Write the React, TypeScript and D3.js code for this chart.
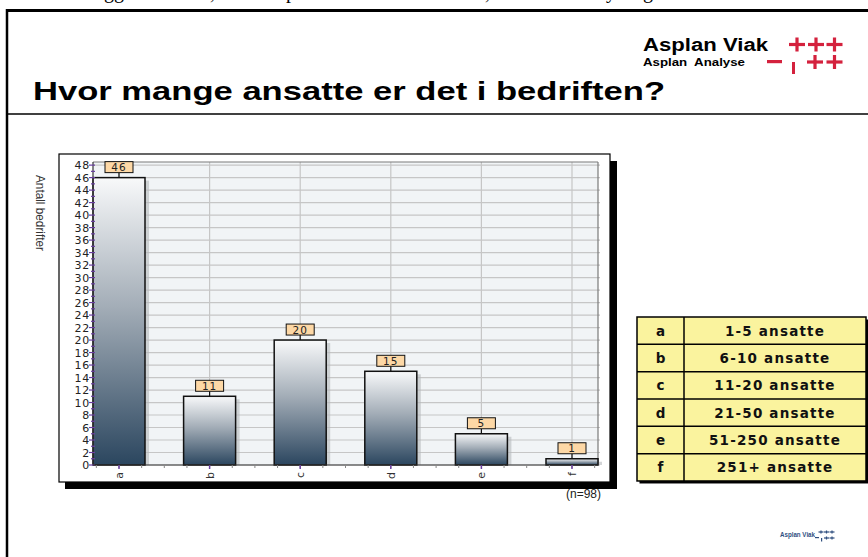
import React from 'react';
import * as d3 from 'd3';

const categories = ['a', 'b', 'c', 'd', 'e', 'f'];
const counts = [46, 11, 20, 15, 5, 1];
const legendLabels = ['1-5 ansatte', '6-10 ansatte', '11-20 ansatte', '21-50 ansatte', '51-250 ansatte', '251+ ansatte'];
const yTicks = d3.range(0, 49, 2);
const yMinor = d3.range(0, 49, 1);

const W = 868;
const H = 557;

// plot area
const plot = { left: 93, right: 598, top: 162, bottom: 465 };
const box = { x: 59, y: 154, w: 551, h: 328 };

const numFont = '"DejaVu Sans", Verdana, sans-serif';
const arial = '"Liberation Sans", Arial, sans-serif';

function Plus({ cx, cy, s = 16, t = 3.2, color = '#d4213d' }) {
  return (
    <g fill={color}>
      <rect x={cx - s / 2} y={cy - t / 2} width={s} height={t} />
      <rect x={cx - t / 2} y={cy - s / 2 + 1} width={t} height={s - 2} />
    </g>
  );
}

export default function App() {
  const x = d3.scalePoint<string>().domain(categories).range([plot.left, plot.right]).padding(0.287);
  const y = d3.scaleLinear().domain([0, 48.5]).range([plot.bottom, plot.top]);
  const barW = 52;
  const step = x.step();
  const xMinor = d3
    .range(-1, 23)
    .map(k => (x('a') as number) + (k * step) / 4)
    .filter(p => p >= plot.left + 2 && p <= plot.right);

  const legendX = 637;
  const legendY = 317;
  const rowH = 27.33;
  const legendW = 229;
  const colX = 684;

  return (
    <svg
      width={W}
      height={H}
      style={{ position: 'fixed', left: 0, top: 0, background: '#fff' }}
    >
      <defs>
        <linearGradient id="barGrad" x1="0" y1="0" x2="0" y2="1">
          <stop offset="0" stopColor="#f8f9fa" />
          <stop offset="0.45" stopColor="#a3adb7" />
          <stop offset="1" stopColor="#2b465f" />
        </linearGradient>
      </defs>

      {/* cut-off line of page text above the frame */}
      <g fontFamily='"Liberation Serif", "Times New Roman", serif' fontSize={20} fill="#000">
        <text x={104} y={-2}>gg</text>
        <text x={210} y={-1}>,</text>
        <text x={286} y={-2}>p</text>
        <text x={485} y={-1}>,</text>
        <text x={606} y={-2}>y</text>
        <text x={643} y={-2}>g</text>
      </g>

      {/* page frame */}
      <line x1={7} y1={10.5} x2={W} y2={10.5} stroke="#000" strokeWidth={3} />
      <line x1={7} y1={9} x2={7} y2={H} stroke="#000" strokeWidth={2.5} />
      <line x1={7} y1={114} x2={W} y2={114} stroke="#000" strokeWidth={1.5} />

      {/* header logo */}
      <text x={643} y={51} fontFamily={arial} fontWeight="bold" fontSize={18} textLength={125} lengthAdjust="spacingAndGlyphs">
        Asplan Viak
      </text>
      <text x={643} y={66} fontFamily={arial} fontWeight="bold" fontSize={10.5} textLength={102} lengthAdjust="spacingAndGlyphs" xmlSpace="preserve">
        Asplan  Analyse
      </text>
      <Plus cx={797} cy={44.5} />
      <Plus cx={816} cy={44.5} />
      <Plus cx={834.5} cy={44.5} />
      <rect x={767} y={60} width={15} height={3.2} fill="#d4213d" />
      <rect x={792} y={62} width={3} height={12} fill="#d4213d" />
      <Plus cx={815} cy={62} />
      <Plus cx={834.5} cy={62} />

      {/* title */}
      <text x={33} y={100} fontFamily={arial} fontWeight="bold" fontSize={25} textLength={632} lengthAdjust="spacingAndGlyphs">
        Hvor mange ansatte er det i bedriften?
      </text>

      {/* y axis title */}
      <text
        transform="translate(36,175) rotate(90)"
        fontFamily={arial}
        fontSize={12}
        fill="#333"
        textLength={76}
        lengthAdjust="spacingAndGlyphs"
      >
        Antall bedrifter
      </text>

      {/* chart box with shadow */}
      <rect x={box.x + 6} y={box.y + 7} width={box.w + 1} height={box.h} fill="#000" />
      <rect x={box.x} y={box.y} width={box.w} height={box.h} fill="#fff" stroke="#000" strokeWidth={1.2} />

      {/* plot background */}
      <rect x={plot.left} y={plot.top} width={plot.right - plot.left} height={plot.bottom - plot.top} fill="#f1f4f6" />

      {/* grid */}
      {yTicks.map(t => (
        <line key={'gy' + t} x1={plot.left} x2={plot.right + 2} y1={y(t)} y2={y(t)} stroke="#c6c6c6" strokeWidth={1.2} />
      ))}
      {categories.map(c => (
        <line key={'gx' + c} x1={x(c)} x2={x(c)} y1={plot.top} y2={plot.bottom} stroke="#c6c6c6" strokeWidth={1.2} />
      ))}
      <line x1={plot.left} x2={plot.right} y1={plot.top} y2={plot.top} stroke="#7a7a7a" strokeWidth={1.2} />
      <line x1={plot.right} x2={plot.right} y1={plot.top} y2={plot.bottom} stroke="#7a7a7a" strokeWidth={1.2} />

      {/* bars */}
      {categories.map((c, i) => {
        const cx = x(c) as number;
        const top = y(counts[i]);
        const h = plot.bottom - top;
        return (
          <g key={'bar' + c}>
            <rect x={cx - barW / 2 + 4} y={top + 3} width={barW} height={h - 3} fill="#b5b9bd" opacity={0.6} />
            <rect x={cx - barW / 2} y={top} width={barW} height={h} fill="url(#barGrad)" stroke="#111" strokeWidth={1.5} />
          </g>
        );
      })}

      {/* value labels */}
      {categories.map((c, i) => {
        const cx = x(c) as number;
        const top = y(counts[i]);
        return (
          <g key={'lab' + c}>
            <line x1={cx} x2={cx} y1={top - 5} y2={top} stroke="#111" strokeWidth={1.2} />
            <rect x={cx - 14} y={top - 16} width={28} height={11} fill="#fdd8a6" stroke="#111" strokeWidth={1} />
            <text x={cx} y={top - 6.5} textAnchor="middle" fontFamily={numFont} fontSize={10.5} letterSpacing={1} fill="#222">
              {counts[i]}
            </text>
          </g>
        );
      })}

      {/* y axis */}
      <line x1={plot.left} x2={plot.left} y1={plot.top} y2={plot.bottom} stroke="#333" strokeWidth={1.2} />
      {yMinor.map(t => (
        <line key={'ym' + t} x1={plot.left - (t % 2 === 0 ? 4 : 2)} x2={plot.left + 2} y1={y(t)} y2={y(t)} stroke="#6a3fa0" strokeWidth={1.2} />
      ))}
      {yTicks.map(t => (
        <text key={'yt' + t} x={plot.left - 3} y={y(t) + 4} textAnchor="end" fontFamily={numFont} fontSize={11} letterSpacing={0.8} fill="#222">
          {t}
        </text>
      ))}

      {/* x axis */}
      <line x1={plot.left} x2={plot.right} y1={plot.bottom} y2={plot.bottom} stroke="#333" strokeWidth={1.2} />
      {xMinor.map((p, i) => (
        <line key={'xm' + i} x1={p} x2={p} y1={plot.bottom} y2={plot.bottom + 3} stroke="#888" strokeWidth={1} />
      ))}
      {categories.map(c => (
        <line key={'xt' + c} x1={x(c)} x2={x(c)} y1={plot.bottom} y2={plot.bottom + 4} stroke="#6a3fa0" strokeWidth={1.5} />
      ))}
      {categories.map(c => (
        <text
          key={'xl' + c}
          transform={`translate(${(x(c) as number) + 4},${plot.bottom + 7}) rotate(-90)`}
          textAnchor="end"
          fontFamily={numFont}
          fontSize={11}
          fill="#333"
        >
          {c}
        </text>
      ))}

      <text x={566} y={498} fontFamily={arial} fontSize={12} fill="#222">
        (n=98)
      </text>

      {/* legend table */}
      <rect x={legendX + 2.5} y={legendY + 2.5} width={legendW} height={rowH * 6} fill="#000" />
      <rect x={legendX} y={legendY} width={legendW} height={rowH * 6} fill="#faf39e" stroke="#000" strokeWidth={1.5} />
      <line x1={colX} x2={colX} y1={legendY} y2={legendY + rowH * 6} stroke="#000" strokeWidth={1.5} />
      {categories.map((c, i) =>
        i > 0 ? (
          <line key={'lr' + c} x1={legendX} x2={legendX + legendW} y1={legendY + i * rowH} y2={legendY + i * rowH} stroke="#000" strokeWidth={1.5} />
        ) : null
      )}
      {categories.map((c, i) => (
        <g key={'lt' + c} fontFamily={numFont} fontWeight="bold" fontSize={13.5} fill="#111">
          <text x={(legendX + colX) / 2} y={legendY + i * rowH + rowH / 2 + 5} textAnchor="middle">
            {c}
          </text>
          <text x={(colX + legendX + legendW) / 2} y={legendY + i * rowH + rowH / 2 + 5} textAnchor="middle" letterSpacing={1.2}>
            {legendLabels[i]}
          </text>
        </g>
      ))}

      {/* footer logo */}
      <text x={780} y={537} fontFamily={arial} fontWeight="bold" fontSize={7.5} fill="#2f4f7f" textLength={35} lengthAdjust="spacingAndGlyphs">
        Asplan Viak
      </text>
      <g>
        <Plus cx={821} cy={532} s={5} t={1.2} color="#2f4f7f" />
        <Plus cx={826.5} cy={532} s={5} t={1.2} color="#2f4f7f" />
        <Plus cx={832} cy={532} s={5} t={1.2} color="#2f4f7f" />
        <rect x={815} y={537} width={4} height={1.2} fill="#2f4f7f" />
        <rect x={821} y={538} width={1.2} height={3.5} fill="#2f4f7f" />
        <Plus cx={826.5} cy={538} s={5} t={1.2} color="#2f4f7f" />
        <Plus cx={832} cy={538} s={5} t={1.2} color="#2f4f7f" />
      </g>
    </svg>
  );
}
